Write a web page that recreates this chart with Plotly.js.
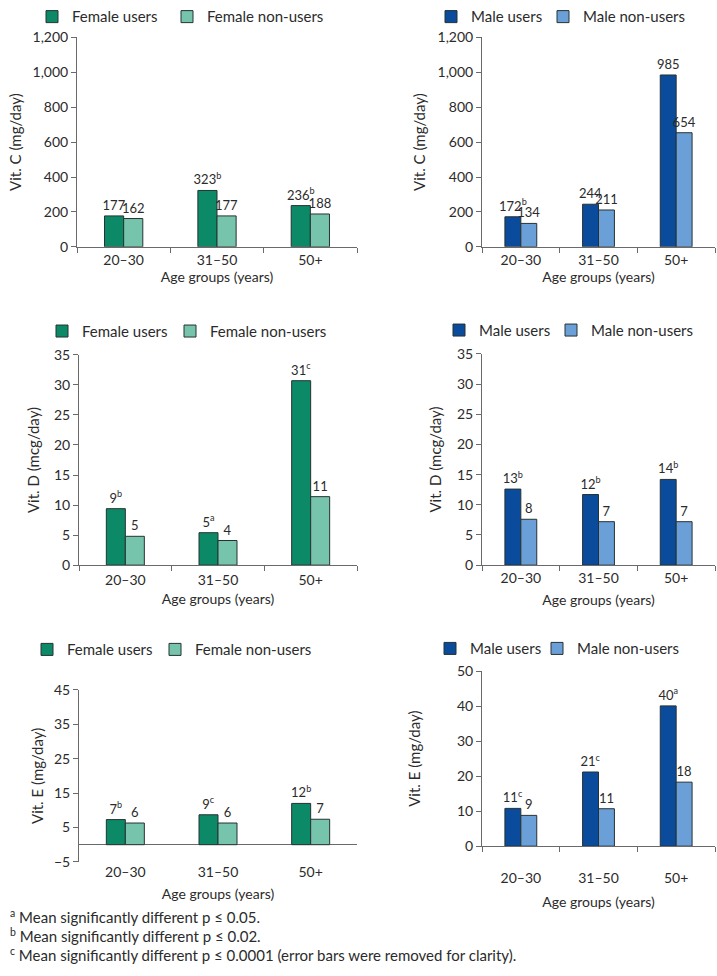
<!DOCTYPE html>
<html>
<head>
<meta charset="utf-8">
<script src="https://cdn.plot.ly/plotly-3.0.1.min.js"></script>
<style>
  body { margin: 0; background: #fff; }
  #plot { width: 717px; height: 976px; }
</style>
</head>
<body>
<div id="plot"></div>
<script>
// age groups on every x axis
var ageGroups = ['20–30', '31–50', '50+'];

// Vit. C (mg/day)
var femaleCUsers = [177, 323, 236];
var femaleCUsersText = ['177', '323<sup>b</sup>', '236<sup>b</sup>'];
var femaleCNon = [162, 177, 188];
var femaleCNonText = ['162', '177', '188'];
var maleCUsers = [172, 244, 985];
var maleCUsersText = ['172<sup>b</sup>', '244', '985'];
var maleCNon = [134, 211, 654];
var maleCNonText = ['134', '211', '654'];

// Vit. D (mcg/day)
var femaleDUsers = [9.4, 5.4, 30.7];
var femaleDUsersText = ['9<sup>b</sup>', '5<sup>a</sup>', '31<sup>c</sup>'];
var femaleDNon = [4.8, 4.1, 11.4];
var femaleDNonText = ['5', '4', '11'];
var maleDUsers = [12.6, 11.7, 14.2];
var maleDUsersText = ['13<sup>b</sup>', '12<sup>b</sup>', '14<sup>b</sup>'];
var maleDNon = [7.6, 7.2, 7.2];
var maleDNonText = ['8', '7', '7'];

// Vit. E (mg/day)
var femaleEUsers = [7.3, 8.7, 12.0];
var femaleEUsersText = ['7<sup>b</sup>', '9<sup>c</sup>', '12<sup>b</sup>'];
var femaleENon = [6.3, 6.3, 7.4];
var femaleENonText = ['6', '6', '7'];
var maleEUsers = [10.8, 21.2, 40.1];
var maleEUsersText = ['11<sup>c</sup>', '21<sup>c</sup>', '40<sup>a</sup>'];
var maleENon = [8.8, 10.7, 18.3];
var maleENonText = ['9', '11', '18'];

var footnotes = [
  '<sup>a</sup> Mean significantly different p ≤ 0.05.',
  '<sup>b</sup> Mean significantly different p ≤ 0.02.',
  '<sup>c</sup> Mean significantly different p ≤ 0.0001 (error bars were removed for clarity).'
];

var W = 717, H = 976;
function px(x) { return x / W; }
function py(y) { return 1 - y / H; }

var FONT = 'Lato, "Open Sans", sans-serif';
var INK = '#2b2b2b';
var AXIS = '#6a6a6a';
var OUTLINE = '#263232';

var female = { users: '#0c8a68', non: '#76c4ac', usersName: 'Female users', nonName: 'Female non-users' };
var male = { users: '#0a4b9b', non: '#6b9fd8', usersName: 'Male users', nonName: 'Male non-users' };

// panel boxes in pixels: left, right, top, bottom
var panels = [
  { sex: female, users: femaleCUsers, ut: femaleCUsersText, non: femaleCNon, nt: femaleCNonText,
    box: [77, 357, 29, 242], range: [0, 1200], dtick: 200, tick0: 0, title: 'Vit. C (mg/day)',
    ystand: 7, xstand: 4, lstand: 0, leg: [32, 8], lw: 90 },
  { sex: male, users: maleCUsers, ut: maleCUsersText, non: maleCNon, nt: maleCNonText,
    box: [482, 715, 29, 242], range: [0, 1200], dtick: 200, tick0: 0, title: 'Vit. C (mg/day)',
    ystand: 8, xstand: 4, lstand: 0, leg: [431, 8], lw: 67 },
  { sex: female, users: femaleDUsers, ut: femaleDUsersText, non: femaleDNon, nt: femaleDNonText,
    box: [79, 357, 352, 566], range: [0, 35], dtick: 5, tick0: 0, title: 'Vit. D (mcg/day)',
    ystand: 10, xstand: 7, lstand: 2, leg: [42, 328], lw: 83 },
  { sex: male, users: maleDUsers, ut: maleDUsersText, non: maleDNon, nt: maleDNonText,
    box: [482, 715, 351, 566], range: [0, 35], dtick: 5, tick0: 0, title: 'Vit. D (mcg/day)',
    ystand: 11, xstand: 10, lstand: 0, leg: [439, 327], lw: 67 },
  { sex: female, users: femaleEUsers, ut: femaleEUsersText, non: femaleENon, nt: femaleENonText,
    box: [79, 357, 693, 868], range: [-5, 45], dtick: 10, tick0: -5, title: 'Vit. E (mg/day)',
    ystand: 6, xstand: 10, lstand: 0, leg: [27, 652], lw: 83 },
  { sex: male, users: maleEUsers, ut: maleEUsersText, non: maleENon, nt: maleENonText,
    box: [482, 715, 674, 852], range: [0, 50], dtick: 10, tick0: 0, title: 'Vit. E (mg/day)',
    ystand: 32, xstand: 12, lstand: 19, leg: [430, 651], lw: 62 }
];

var traces = [];
var layout = {
  width: W,
  height: H,
  margin: { l: 0, r: 0, t: 0, b: 0 },
  paper_bgcolor: '#fff',
  plot_bgcolor: '#fff',
  font: { family: FONT, size: 14, color: INK },
  barmode: 'group',
  bargap: 0.59,
  bargroupgap: 0,
  annotations: [],
  showlegend: true
};

panels.forEach(function (p, i) {
  var n = i + 1;
  var sfx = n === 1 ? '' : String(n);
  var legName = 'legend' + sfx;
  var common = {
    type: 'bar',
    x: ageGroups,
    xaxis: 'x' + sfx,
    yaxis: 'y' + sfx,
    legend: legName,
    textposition: 'outside',
    textangle: 0,
    constraintext: 'none',
    cliponaxis: false,
    textfont: { family: FONT, size: 13, color: INK },
    hoverinfo: 'x+y'
  };
  traces.push(Object.assign({}, common, {
    name: p.sex.usersName, y: p.users, text: p.ut,
    legendwidth: p.lw,
    marker: { color: p.sex.users, line: { color: OUTLINE, width: 1 } }
  }));
  traces.push(Object.assign({}, common, {
    name: p.sex.nonName, y: p.non, text: p.nt,
    marker: { color: p.sex.non, line: { color: OUTLINE, width: 1 } }
  }));

  var isE = p.range[0] < 0;
  layout['xaxis' + sfx] = {
    domain: [px(p.box[0]), px(p.box[1])],
    anchor: 'y' + sfx,
    type: 'category',
    showline: !isE,
    linecolor: AXIS,
    linewidth: 1,
    ticks: isE ? '' : 'outside',
    tickson: 'boundaries',
    ticklen: 5,
    tickcolor: AXIS,
    ticklabelstandoff: p.lstand,
    showgrid: false,
    automargin: true,
    tickfont: { size: 14, color: INK },
    title: { text: 'Age groups (years)', font: { size: 14, color: INK }, standoff: p.xstand },
    fixedrange: true
  };
  layout['yaxis' + sfx] = {
    domain: [py(p.box[3]), py(p.box[2])],
    anchor: 'x' + sfx,
    range: p.range,
    tick0: p.tick0,
    dtick: p.dtick,
    tickformat: ',d',
    showline: true,
    linecolor: AXIS,
    linewidth: 1,
    ticks: 'outside',
    ticklen: 5,
    tickcolor: AXIS,
    showgrid: false,
    zeroline: isE,
    zerolinecolor: AXIS,
    zerolinewidth: 1,
    automargin: true,
    tickfont: { size: 14, color: INK },
    title: { text: p.title, font: { size: 15, color: INK }, standoff: p.ystand },
    fixedrange: true
  };
  layout[legName] = {
    orientation: 'h',
    x: px(p.leg[0]),
    y: py(p.leg[1]),
    xanchor: 'left',
    yanchor: 'middle',
    bgcolor: 'rgba(0,0,0,0)',
    font: { size: 15, color: INK },
    itemwidth: 30,
    traceorder: 'normal'
  };

  if (isE) {
    // tick marks along the zero line, under the category boundaries
    var zeroFrac = (0 - p.range[0]) / (p.range[1] - p.range[0]);
    var y0 = py(p.box[3]), y1 = py(p.box[2]);
    layout.xaxis7 = {
      overlaying: 'x' + sfx,
      anchor: 'free',
      position: y0 + zeroFrac * (y1 - y0),
      domain: [px(p.box[0]), px(p.box[1])],
      range: [-0.5, 2.5],
      tickmode: 'array',
      tickvals: [-0.5, 0.5, 1.5, 2.5],
      ticks: 'outside',
      ticklen: 5,
      tickcolor: AXIS,
      showticklabels: false,
      showline: false,
      showgrid: false,
      zeroline: false,
      fixedrange: true
    };
  }
});

footnotes.forEach(function (t, i) {
  layout.annotations.push({
    xref: 'paper', yref: 'paper',
    x: px(8), y: py(924 + i * 19),
    xanchor: 'left', yanchor: 'middle',
    text: t, showarrow: false,
    font: { family: FONT, size: 15, color: INK }
  });
});

Plotly.newPlot('plot', traces, layout, { displayModeBar: false, staticPlot: true });
</script>
</body>
</html>
